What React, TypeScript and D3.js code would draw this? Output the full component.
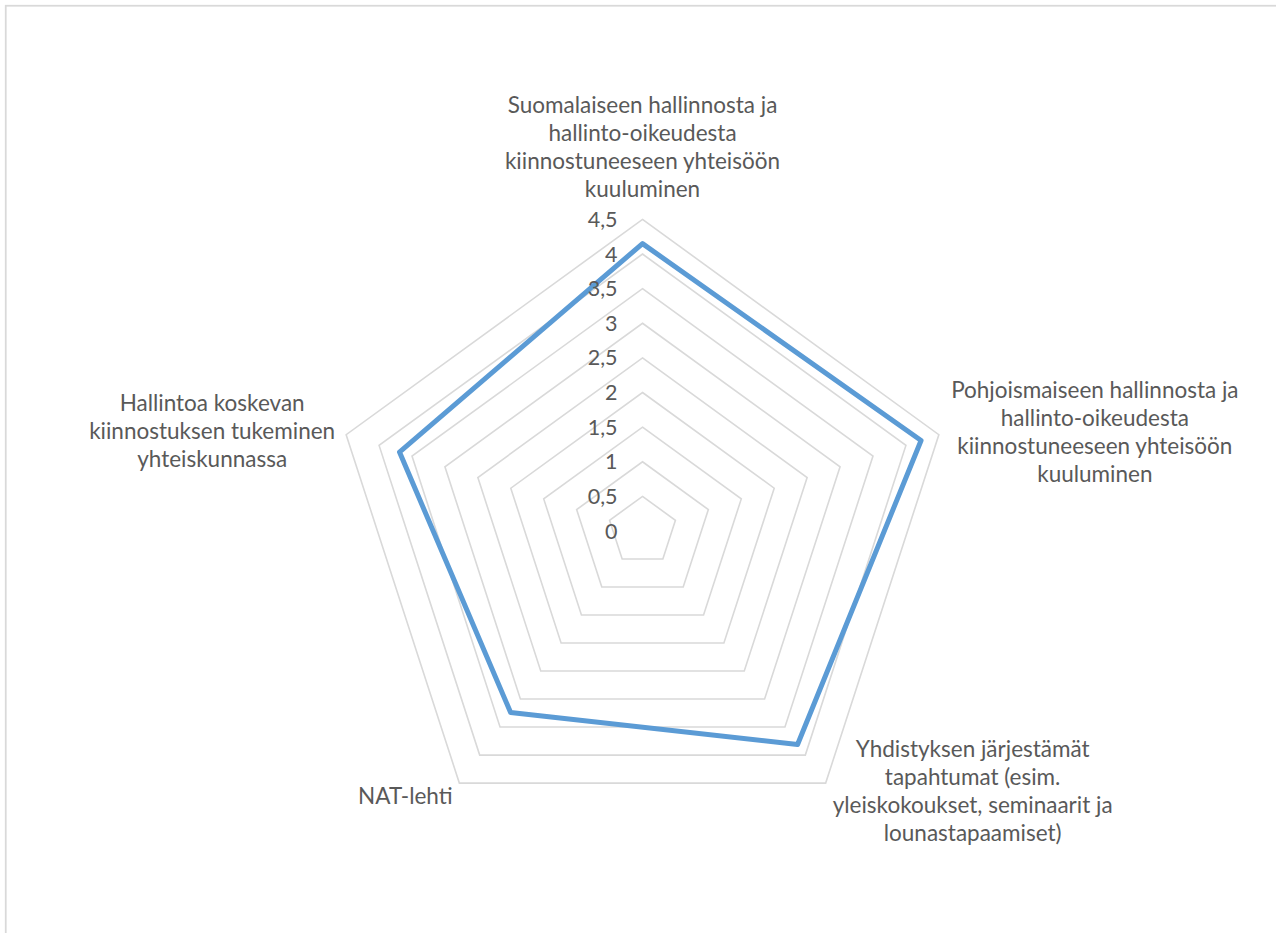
import React from "react";
import * as d3 from "d3";

// categories (axis labels, split in lines as in the picture)
const categories: string[][] = [
  ["Suomalaiseen hallinnosta ja", "hallinto-oikeudesta", "kiinnostuneeseen yhteisöön", "kuuluminen"],
  ["Pohjoismaiseen hallinnosta ja", "hallinto-oikeudesta", "kiinnostuneeseen yhteisöön", "kuuluminen"],
  ["Yhdistyksen järjestämät", "tapahtumat (esim.", "yleiskokoukset, seminaarit ja", "lounastapaamiset)"],
  ["NAT-lehti"],
  ["Hallintoa koskevan", "kiinnostuksen tukeminen", "yhteiskunnassa"],
];
const values = [4.15, 4.23, 3.81, 3.24, 3.69];
const tickValues = [0, 0.5, 1, 1.5, 2, 2.5, 3, 3.5, 4, 4.5];

// label block centre offsets from the outer ring tip (dx, dy of block centre)
const labelOffsets: [number, number][] = [
  [0, -72],
  [156, -3],
  [147, 8],
  [-54, 13],
  [-134, -4],
];

const W = 1276;
const H = 933;
const cx = 642.5;
const cy = 531;
const R = 311.6;
const lineH = 28;
const font = "Lato, 'Open Sans', sans-serif";
const textColor = "#595959";

export default function App() {
  const r = d3.scaleLinear().domain([0, 4.5]).range([0, R]);
  const n = categories.length;
  const angle = (i: number) => (i * 2 * Math.PI) / n;
  const pt = (i: number, v: number): [number, number] => [
    cx + r(v) * Math.sin(angle(i)),
    cy - r(v) * Math.cos(angle(i)),
  ];

  const radial = d3
    .lineRadial<number>()
    .angle((_, i) => angle(i))
    .radius((d) => r(d))
    .curve(d3.curveLinearClosed);

  const fmt = (v: number) => String(v).replace(".", ",");

  return (
    <svg
      width={W}
      height={H}
      style={{ position: "absolute", left: 0, top: 0, background: "#fff" }}
    >
      <rect x={5.75} y={5.75} width={1400} height={1100} fill="#fff" stroke="#d9d9d9" strokeWidth={1.75} />
      <g transform={`translate(${cx},${cy})`}>
        {tickValues.slice(1).map((t) => (
          <path
            key={t}
            d={radial(categories.map(() => t)) || ""}
            fill="none"
            stroke="#d9d9d9"
            strokeWidth={1.6}
          />
        ))}
        <path
          d={radial(values) || ""}
          fill="none"
          stroke="#5b9bd5"
          strokeWidth={5}
          strokeLinejoin="round"
        />
      </g>
      {categories.map((lines, i) => {
        const [tx, ty] = pt(i, 4.5);
        const [ox, oy] = labelOffsets[i];
        const bx = tx + ox;
        const by = ty + oy;
        const top = by - ((lines.length - 1) * lineH) / 2;
        return (
          <text
            key={i}
            textAnchor="middle"
            fontFamily={font}
            fontSize={22.5}
            fill={textColor}
          >
            {lines.map((l, j) => (
              <tspan key={j} x={bx} y={top + j * lineH} dy="0.35em">
                {l}
              </tspan>
            ))}
          </text>
        );
      })}
      {tickValues.map((t) => (
        <text
          key={t}
          x={cx - 25}
          y={cy - r(t)}
          dy="0.35em"
          textAnchor="end"
          fontFamily={font}
          fontSize={21.5}
          fill={textColor}
        >
          {fmt(t)}
        </text>
      ))}
    </svg>
  );
}
